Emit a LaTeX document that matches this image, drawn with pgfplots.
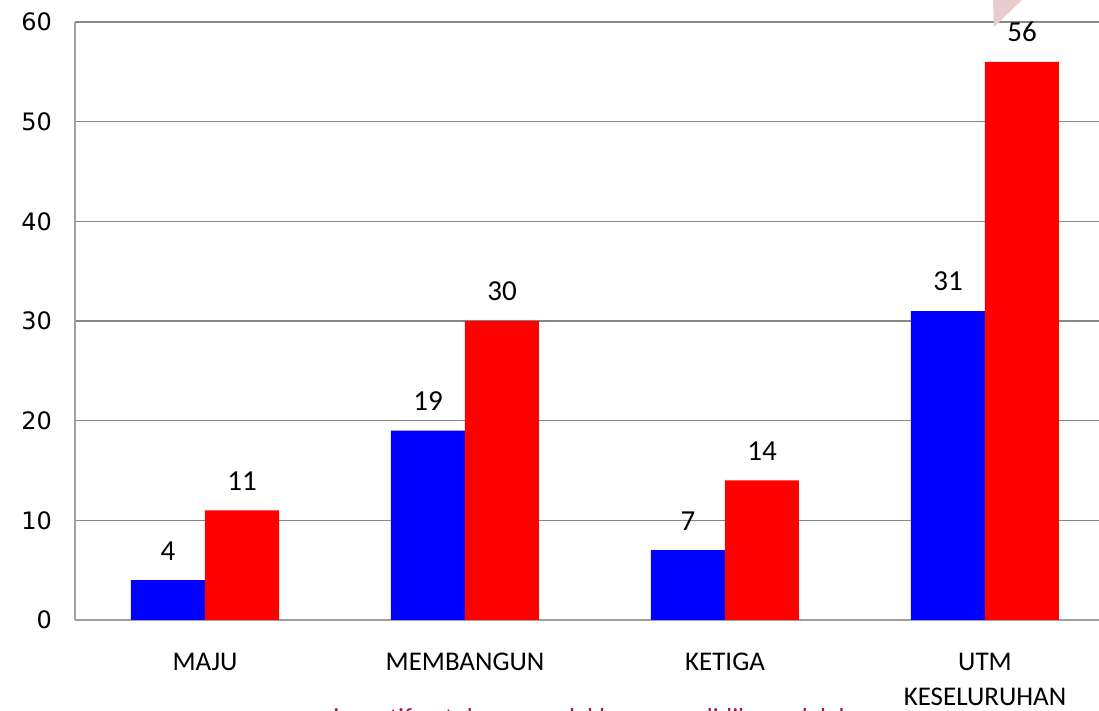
\documentclass[border=0pt]{standalone}
\usepackage{pgfplots}
\pgfplotsset{compat=1.18}
\usepackage{fontspec}
\setmainfont{Carlito}
\newfontfamily\dejavu{DejaVu Sans}
\definecolor{barblue}{RGB}{0,0,255}
\definecolor{barred}{RGB}{255,0,0}
\definecolor{gridgray}{RGB}{136,136,136}
\definecolor{wine}{RGB}{150,28,70}
\definecolor{pinkish}{RGB}{232,205,207}
\begin{document}
\begin{tikzpicture}
\path[use as bounding box, clip] (0,0) rectangle (549.5pt,355.5pt);
\begin{axis}[
  at={(37.5pt,45.5pt)}, anchor=south west,
  scale only axis, width=512pt, height=299pt,
  xmin=-0.5, xmax=3.4385, ymin=0, ymax=60,
  ytick={0,10,...,60},
  xtick={0,1,2,3},
  xticklabels={MAJU,MEMBANGUN,KETIGA,{UTM\\KESELURUHAN}},
  xticklabel style={font=\fontsize{13.5}{17.5}\selectfont, align=center, yshift=-13pt},
  yticklabel style={font=\dejavu\fontsize{12}{14}\selectfont, xshift=-8pt},
  /pgf/number format/assume math mode=true,
  axis x line*=bottom, axis y line*=left,
  axis line style={draw=gridgray!80, line width=0.9pt},
  major tick length=0pt,
  ymajorgrids, grid style={draw=gridgray, line width=0.6pt},
  ybar, bar width=37pt,
  nodes near coords,
  every node near coord/.append style={font=\fontsize{14.5}{16}\selectfont, text=black, yshift=6.5pt},
  clip=false,
]
\addplot[fill=barblue, draw=none, bar shift=-18.5pt] coordinates {(0,4) (1,19) (2,7) (3,31)};
\addplot[fill=barred, draw=none, bar shift=18.5pt] coordinates {(0,11) (1,30) (2,14) (3,56)};
\end{axis}
\fill[pinkish] (496.5pt,355.5pt) -- (511pt,355.5pt) -- (497pt,342pt) -- cycle;
\node[anchor=base west, text=wine, font=\fontsize{13}{15}\selectfont, inner sep=0pt] at (166.5pt,-8pt) {insentif untuk menggalakkan penyelidikan adalah};
\end{tikzpicture}
\end{document}
